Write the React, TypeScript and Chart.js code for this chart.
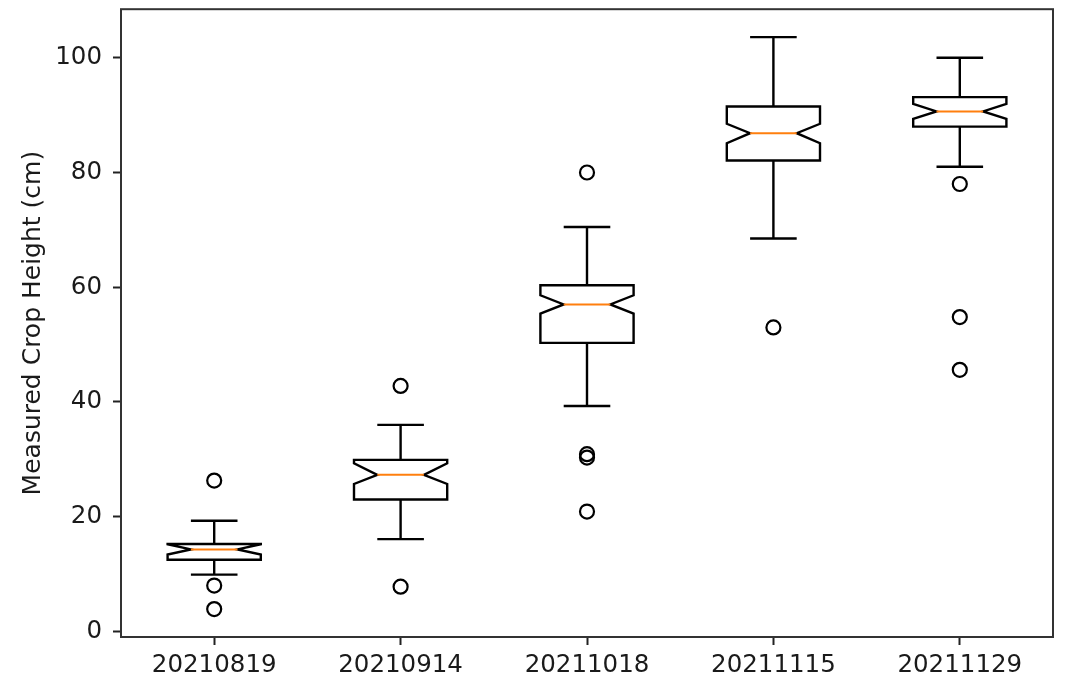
import React, { useEffect, useRef } from 'react';
import { Chart, registerables } from 'chart.js';

Chart.register(...registerables);

const categories = ['20210819', '20210914', '20211018', '20211115', '20211129'];
const whiskerLow = [9.9, 16.1, 39.3, 68.5, 81.0];
const q1 = [12.5, 23.0, 50.3, 82.1, 88.0];
const notchLow = [13.4, 25.7, 55.4, 85.1, 89.35];
const median = [14.3, 27.3, 57.0, 86.85, 90.65];
const notchHigh = [15.2, 29.3, 58.6, 88.5, 91.95];
const q3 = [15.25, 29.9, 60.35, 91.5, 93.15];
const whiskerHigh = [19.3, 36.0, 70.5, 103.6, 100.0];
const outliers = [
  [26.3, 8.0, 3.9],
  [42.8, 7.8],
  [80.0, 30.9, 30.3, 20.9],
  [53.0],
  [78.0, 54.8, 45.6],
];
const yTicks = [0, 20, 40, 60, 80, 100];
const yMin = -0.97;
const yMax = 108.47;
const yTitle = 'Measured Crop Height (cm)';

const FONT = "'DejaVu Sans', sans-serif";

const boxPlugin = {
  id: 'notchedBoxes',
  afterDatasetsDraw(chart: any) {
    const ctx = chart.ctx;
    const xs = chart.scales.x;
    const ys = chart.scales.y;
    const unit = Math.abs(xs.getPixelForValue(1) - xs.getPixelForValue(0));
    const halfBox = unit * 0.25;
    const halfNotch = unit * 0.125;
    const halfCap = unit * 0.125;
    ctx.save();
    ctx.lineJoin = 'miter';
    for (let i = 0; i < categories.length; i++) {
      const cx = xs.getPixelForValue(i);
      const y = (v: number) => ys.getPixelForValue(v);
      ctx.strokeStyle = '#000';
      ctx.lineWidth = 2.4;
      ctx.beginPath();
      ctx.moveTo(cx, y(q1[i]));
      ctx.lineTo(cx, y(whiskerLow[i]));
      ctx.moveTo(cx, y(q3[i]));
      ctx.lineTo(cx, y(whiskerHigh[i]));
      ctx.moveTo(cx - halfCap, y(whiskerLow[i]));
      ctx.lineTo(cx + halfCap, y(whiskerLow[i]));
      ctx.moveTo(cx - halfCap, y(whiskerHigh[i]));
      ctx.lineTo(cx + halfCap, y(whiskerHigh[i]));
      ctx.stroke();
      ctx.beginPath();
      ctx.moveTo(cx - halfBox, y(q1[i]));
      ctx.lineTo(cx - halfBox, y(notchLow[i]));
      ctx.lineTo(cx - halfNotch, y(median[i]));
      ctx.lineTo(cx - halfBox, y(notchHigh[i]));
      ctx.lineTo(cx - halfBox, y(q3[i]));
      ctx.lineTo(cx + halfBox, y(q3[i]));
      ctx.lineTo(cx + halfBox, y(notchHigh[i]));
      ctx.lineTo(cx + halfNotch, y(median[i]));
      ctx.lineTo(cx + halfBox, y(notchLow[i]));
      ctx.lineTo(cx + halfBox, y(q1[i]));
      ctx.closePath();
      ctx.stroke();
      ctx.strokeStyle = '#ff7f0e';
      ctx.lineWidth = 2;
      ctx.beginPath();
      ctx.moveTo(cx - halfNotch, y(median[i]));
      ctx.lineTo(cx + halfNotch, y(median[i]));
      ctx.stroke();
    }
    ctx.restore();
  },
  afterDraw(chart: any) {
    const { left, right, top, bottom } = chart.chartArea;
    const ctx = chart.ctx;
    ctx.save();
    ctx.strokeStyle = '#333';
    ctx.lineWidth = 2;
    ctx.strokeRect(left, top, right - left, bottom - top);
    ctx.restore();
  },
};

export default function App() {
  const ref = useRef<HTMLCanvasElement | null>(null);
  useEffect(() => {
    if (!ref.current) return;
    const points: { x: string; y: number }[] = [];
    outliers.forEach((arr, i) => arr.forEach((v) => points.push({ x: categories[i], y: v })));
    const chart = new Chart(ref.current, {
      type: 'line',
      data: {
        labels: categories,
        datasets: [
          {
            data: points as any,
            showLine: false,
            pointRadius: 7,
            pointBorderWidth: 2.2,
            pointBorderColor: '#000',
            pointBackgroundColor: 'rgba(0,0,0,0)',
            borderColor: '#000',
            backgroundColor: 'rgba(0,0,0,0)',
          },
        ],
      },
      options: {
        animation: false,
        responsive: false,
        events: [],
        layout: { padding: { top: 8, right: 13, left: 0, bottom: 0 } },
        plugins: { legend: { display: false }, tooltip: { enabled: false } },
        scales: {
          x: {
            type: 'category',
            offset: true,
            grid: {
              display: true,
              drawOnChartArea: false,
              drawTicks: true,
              tickLength: 8,
              tickColor: '#222',
              tickWidth: 2,
              offset: false,
            },
            border: { display: false },
            ticks: {
              color: '#1a1a1a',
              font: { family: FONT, size: 24.5 },
              padding: 6,
              maxRotation: 0,
              autoSkip: false,
            },
            afterFit: (s: any) => {
              s.height = 43;
              s.paddingLeft = 0;
              s.paddingRight = 0;
            },
          },
          y: {
            type: 'linear',
            min: yMin,
            max: yMax,
            afterBuildTicks: (s: any) => {
              s.ticks = yTicks.map((v) => ({ value: v }));
            },
            grid: {
              display: true,
              drawOnChartArea: false,
              drawTicks: true,
              tickLength: 8,
              tickColor: '#222',
              tickWidth: 2,
            },
            border: { display: false },
            ticks: {
              color: '#1a1a1a',
              font: { family: FONT, size: 24.5 },
              padding: 11,
            },
            title: {
              display: true,
              text: yTitle,
              color: '#1a1a1a',
              font: { family: FONT, size: 25 },
              padding: { top: 18, bottom: 0 },
            },
            afterFit: (s: any) => {
              s.width = 121;
              s.paddingTop = 0;
              s.paddingBottom = 0;
            },
          },
        },
      },
      plugins: [boxPlugin],
    });
    return () => chart.destroy();
  }, []);
  return (
    <div style={{ position: 'absolute', left: 0, top: 0, width: 1066, height: 680, background: '#fff' }}>
      <canvas ref={ref} width={1066} height={680} style={{ display: 'block' }} />
    </div>
  );
}
